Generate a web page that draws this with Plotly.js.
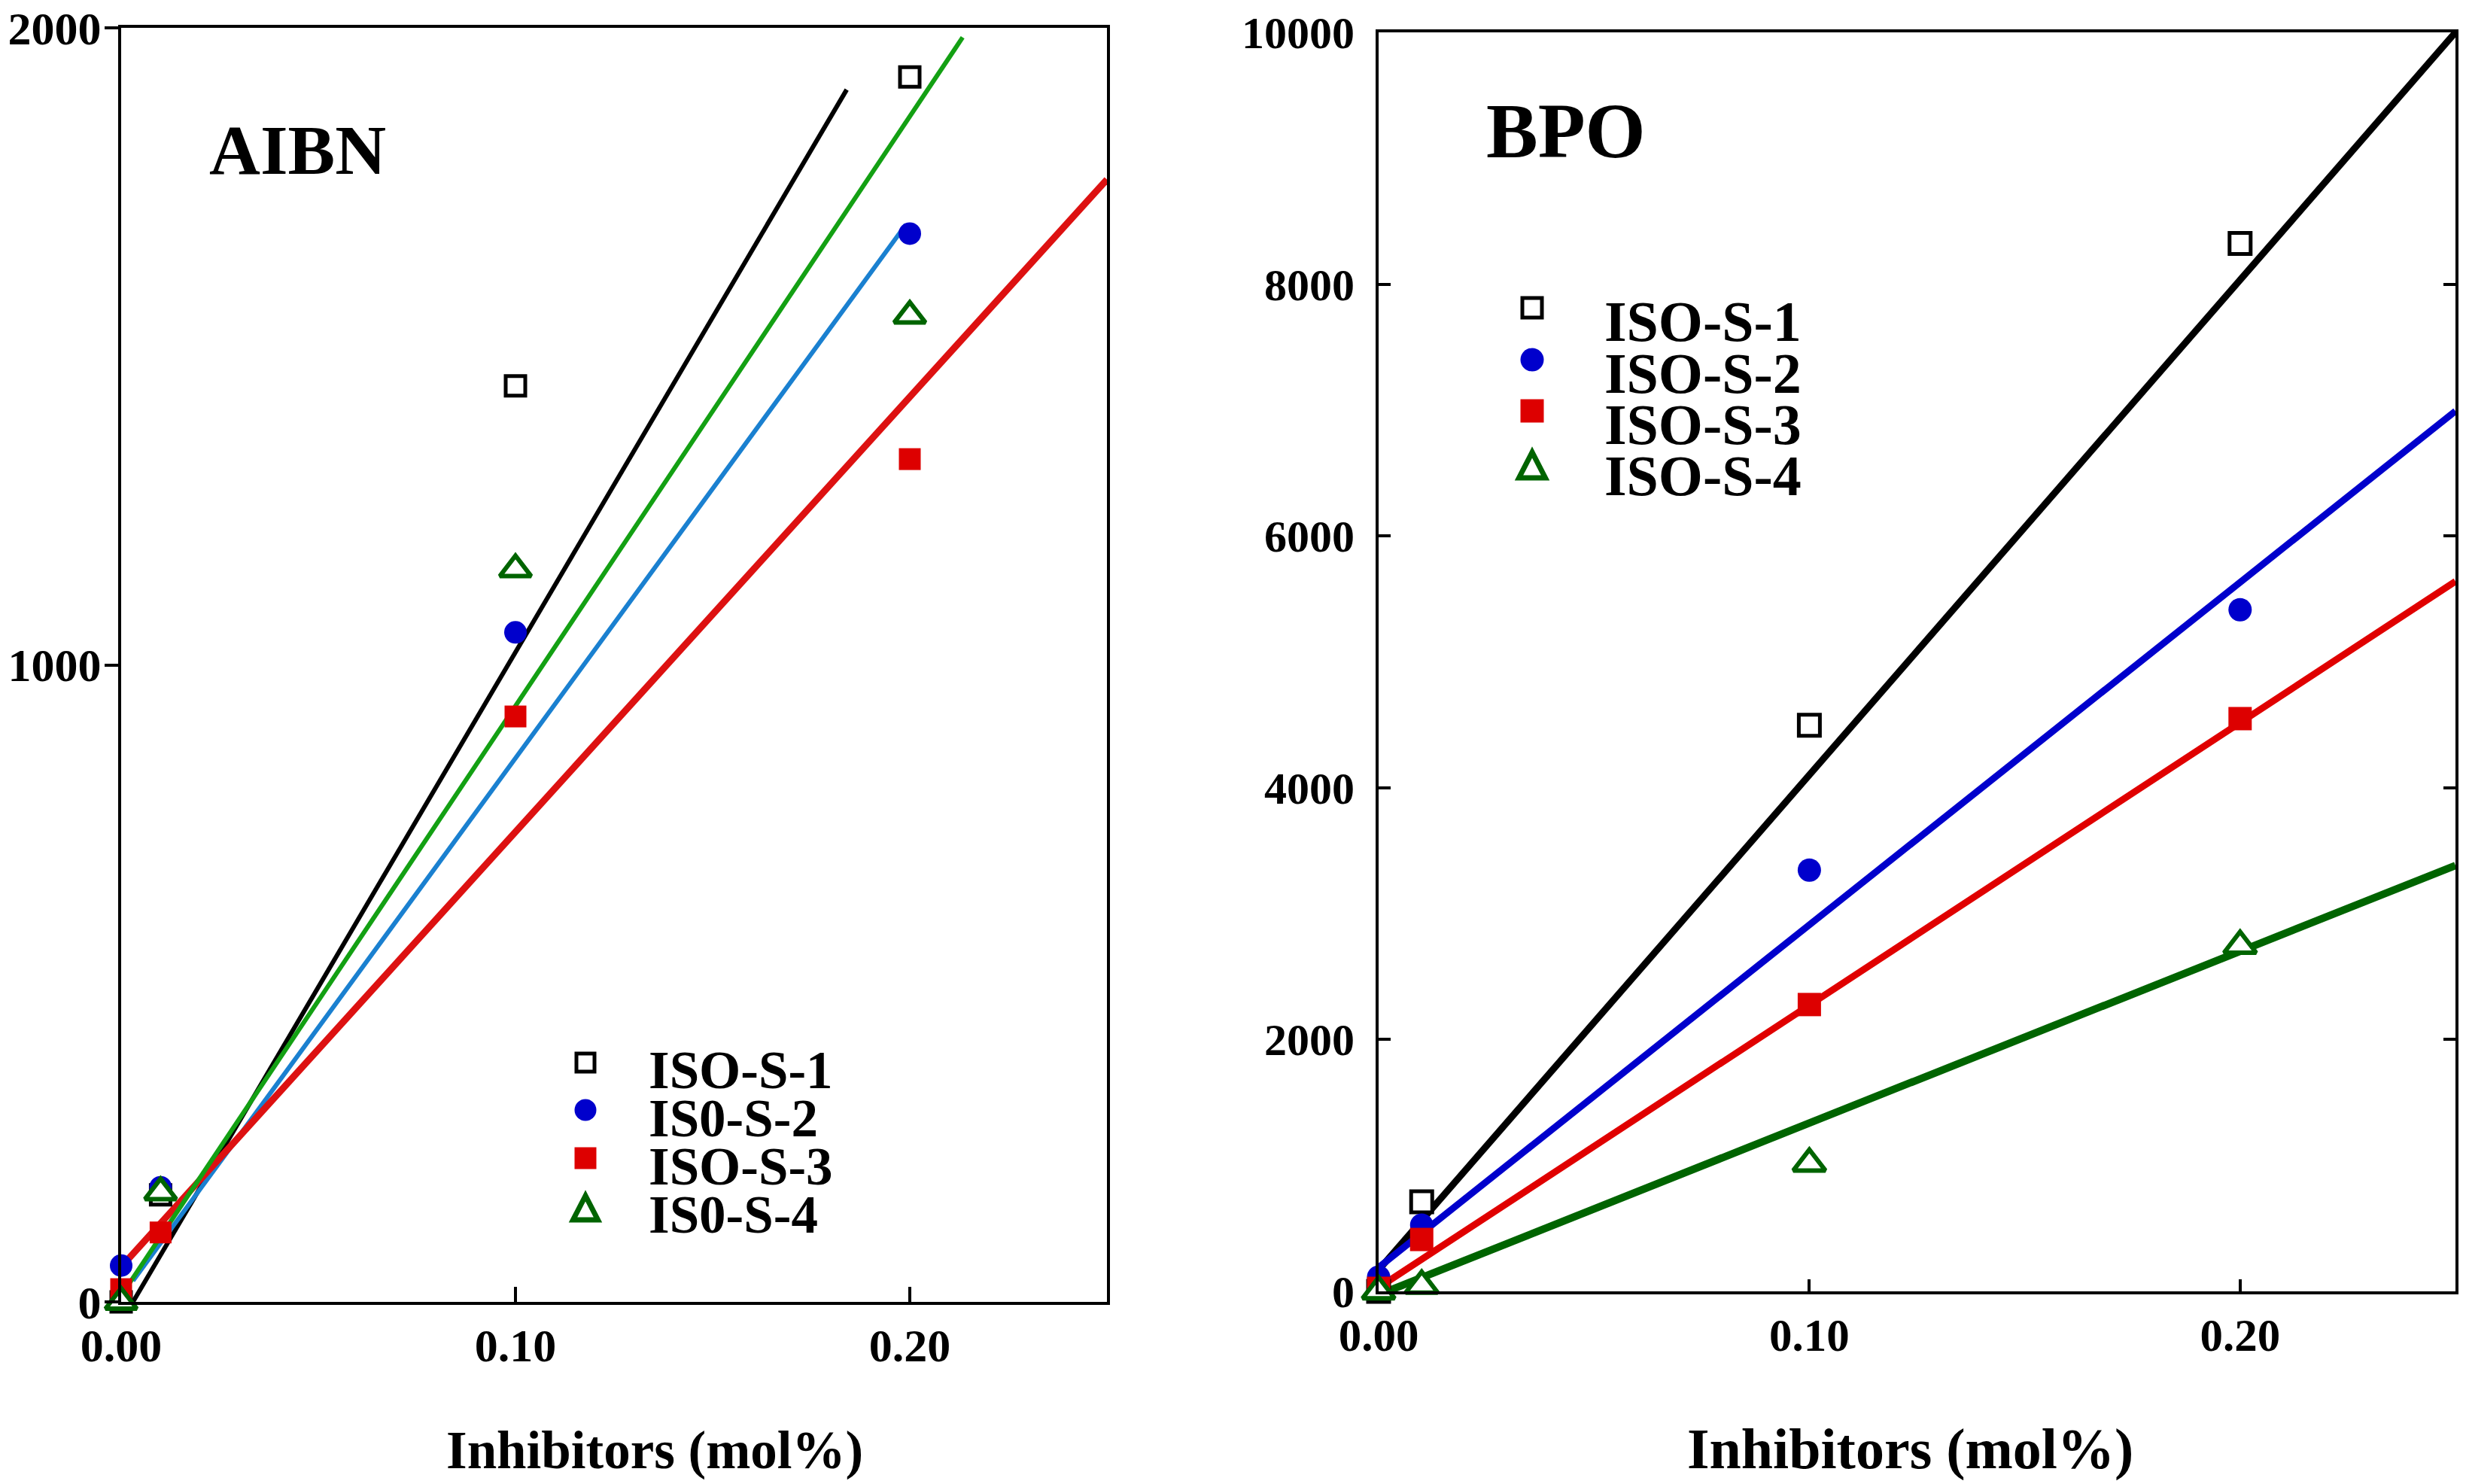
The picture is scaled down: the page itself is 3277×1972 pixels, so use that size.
<!DOCTYPE html>
<html>
<head>
<meta charset="utf-8">
<script src="https://cdn.plot.ly/plotly-3.0.1.min.js"></script>
<style>html,body{margin:0;padding:0;background:#fff;}#chart{width:3277px;height:1972px;}</style>
</head>
<body>
<div id="chart"></div>
<script>
// ---------- DATA ----------
const xLevels = [0, 0.01, 0.1, 0.2];
const aibnLabels = ['ISO-S-1', 'IS0-S-2', 'ISO-S-3', 'IS0-S-4'];
const bpoLabels = ['ISO-S-1', 'ISO-S-2', 'ISO-S-3', 'ISO-S-4'];

// AIBN panel measured points
const aibnS1 = [0, 168, 1438, 1923];
const aibnS2 = [57, 180, 1051, 1677];
const aibnS3 = [20, 109, 919, 1323];
const aibnS4 = [0, 172, 1150, 1548];
// AIBN fitted lines (start / end)
const aibnFitX = [[0.003, 0.184], [0.003, 0.199], [0, 0.25], [0, 0.2134]];
const aibnFitY = [[0, 1903], [33, 1691], [55, 1762], [10, 1985]];

// BPO panel measured points
const bpoS1 = [0, 711, 4496, 8323];
const bpoS2 = [114, 526, 3346, 5414];
const bpoS3 = [24, 412, 2278, 4549];
const bpoS4 = [0, 45, 1015, 2745];
// BPO fitted lines
const bpoFitX = [[0, 0.25], [0, 0.25], [0, 0.25], [0.002, 0.25]];
const bpoFitY = [[170, 10000], [190, 6992], [30, 5639], [0, 3383]];

const aibnTicksX = [0, 0.1, 0.2];
const aibnTicksY = [0, 1000, 2000];
const bpoTicksY = [0, 2000, 4000, 6000, 8000, 10000];

// ---------- STYLE ----------
const FONT = 'Liberation Serif, Times New Roman, serif';
const markerStyles = [
  {symbol: 'square', fill: '#ffffff', color: '#000000', lw: 5},
  {symbol: 'circle', fill: '#0000cc', color: '#0000cc', lw: 0},
  {symbol: 'square', fill: '#dd0000', color: '#dd0000', lw: 0},
  {symbol: 'triangle-up', fill: '#ffffff', color: '#006400', lw: 6}
];
const aibnMarkerSizes = [26, 30, 29, 36];
const bpoMarkerSizes = [28, 31, 31, 37];
const aibnLineColors = ['#000000', '#1a80d0', '#dd1111', '#13a013'];
const aibnLineWidths = [6, 6, 9, 6];
const bpoLineColors = ['#000000', '#0000cc', '#e00000', '#006400'];
const bpoLineWidths = [9, 9, 9, 10];

const traces = [];
function addPanel(series, fitX, fitY, lineColors, lineWidths, sizes, xa, ya) {
  for (let i = 0; i < fitX.length; i++) {
    traces.push({
      x: fitX[i], y: fitY[i], mode: 'lines', xaxis: xa, yaxis: ya,
      line: {color: lineColors[i], width: lineWidths[i]}, hoverinfo: 'skip', showlegend: false
    });
  }
  for (let i = 0; i < series.length; i++) {
    const st = markerStyles[i];
    traces.push({
      x: xLevels, y: series[i], mode: 'markers', xaxis: xa, yaxis: ya, cliponaxis: false,
      marker: {symbol: st.symbol, size: sizes[i], color: st.fill,
               line: {width: st.lw, color: st.color}},
      showlegend: false
    });
  }
}
addPanel([aibnS1, aibnS2, aibnS3, aibnS4], aibnFitX, aibnFitY, aibnLineColors, aibnLineWidths, aibnMarkerSizes, 'x', 'y');
addPanel([bpoS1, bpoS2, bpoS3, bpoS4], bpoFitX, bpoFitY, bpoLineColors, bpoLineWidths, bpoMarkerSizes, 'x2', 'y2');

// ---------- LAYOUT ----------
const W = 3277, H = 1972;
const M = {l: 161, r: 14, t: 37, b: 242};
const PW = W - M.l - M.r, PH = H - M.t - M.b;
const px = v => (v - M.l) / PW;
const py = v => (H - M.b - v) / PH;

const shapes = [];
const annotations = [];

function addLegend(labels, mx, rows, textX, textRows, fontSize, outer) {
  for (let i = 0; i < labels.length; i++) {
    const cy = rows[i];
    const st = markerStyles[i];
    if (i === 0) {
      const s = (outer - 5) / 2;
      shapes.push({type: 'rect', xref: 'paper', yref: 'paper', x0: px(mx - s), x1: px(mx + s),
        y0: py(cy + s), y1: py(cy - s), line: {color: st.color, width: 5}, fillcolor: 'rgba(0,0,0,0)'});
    } else if (i === 1) {
      const s = outer / 2;
      shapes.push({type: 'circle', xref: 'paper', yref: 'paper', x0: px(mx - s), x1: px(mx + s),
        y0: py(cy + s), y1: py(cy - s), line: {width: 0}, fillcolor: st.color});
    } else if (i === 2) {
      const s = outer / 2;
      shapes.push({type: 'rect', xref: 'paper', yref: 'paper', x0: px(mx - s), x1: px(mx + s),
        y0: py(cy + s), y1: py(cy - s), line: {width: 0}, fillcolor: st.color});
    } else {
      const w = (outer + 11 - 7) / 2, h = (outer + 10 - 7) / 2;
      const path = 'M' + px(mx) + ',' + py(cy - h) + ' L' + px(mx - w) + ',' + py(cy + h) +
                   ' L' + px(mx + w) + ',' + py(cy + h) + ' Z';
      shapes.push({type: 'path', xref: 'paper', yref: 'paper', path: path,
        line: {color: st.color, width: 7}, fillcolor: 'rgba(0,0,0,0)'});
    }
    annotations.push({xref: 'paper', yref: 'paper', x: px(textX), y: py(textRows[i]),
      xanchor: 'left', yanchor: 'middle', showarrow: false, text: labels[i],
      font: {family: FONT, size: fontSize, color: '#000', weight: 'bold'}});
  }
}
addLegend(aibnLabels, 778, [1412, 1475, 1539, 1605], 860, [1422, 1486, 1550, 1614], 71, 29);
addLegend(bpoLabels, 2036, [409, 478, 546, 618], 2130, [427, 496, 564, 632], 76, 31);

annotations.push({xref: 'paper', yref: 'paper', x: px(276), y: py(199), xanchor: 'left', yanchor: 'middle',
  showarrow: false, text: 'AIBN', font: {family: FONT, size: 94, color: '#000', weight: 'bold'}});
annotations.push({xref: 'paper', yref: 'paper', x: px(1973), y: py(174), xanchor: 'left', yanchor: 'middle',
  showarrow: false, text: 'BPO', font: {family: FONT, size: 103, color: '#000', weight: 'bold'}});
annotations.push({xref: 'paper', yref: 'paper', x: px(870), y: py(1927), xanchor: 'center', yanchor: 'middle',
  showarrow: false, text: 'Inhibitors (mol%)', font: {family: FONT, size: 71, color: '#000', weight: 'bold'}});
annotations.push({xref: 'paper', yref: 'paper', x: px(2538), y: py(1925), xanchor: 'center', yanchor: 'middle',
  showarrow: false, text: 'Inhibitors (mol%)', font: {family: FONT, size: 76, color: '#000', weight: 'bold'}});

const baseAxis = {
  showline: true, linecolor: '#000', linewidth: 4, showgrid: false, zeroline: false,
  tickcolor: '#000', tickwidth: 4, fixedrange: true
};
const tf = size => ({family: FONT, size: size, color: '#000', weight: 'bold'});

const layout = {
  width: W, height: H, margin: M, paper_bgcolor: '#fff', plot_bgcolor: '#fff', showlegend: false,
  xaxis: Object.assign({}, baseAxis, {domain: [0, px(1471)], range: [0, 0.25], anchor: 'y', mirror: true,
    ticks: 'inside', ticklen: 20, tickvals: aibnTicksX, tickformat: '.2f', tickfont: tf(62), ticklabelstandoff: 1}),
  yaxis: Object.assign({}, baseAxis, {domain: [0, 1], range: [0, 2000], anchor: 'x', mirror: true,
    ticks: 'outside', ticklen: 18, tickvals: aibnTicksY, tickformat: 'd', tickfont: tf(62), ticklabelstandoff: -8}),
  xaxis2: Object.assign({}, baseAxis, {domain: [px(1832), 1], range: [0, 0.25], anchor: 'y2', mirror: true,
    ticks: 'inside', ticklen: 16, tickvals: aibnTicksX, tickformat: '.2f', tickfont: tf(61), ticklabelstandoff: 2}),
  yaxis2: Object.assign({}, baseAxis, {domain: [py(1716), py(43)], range: [0, 10000], anchor: 'x2', mirror: 'ticks',
    ticks: 'inside', ticklen: 16, tickvals: bpoTicksY, tickformat: 'd', tickfont: tf(60), ticklabelstandoff: 16}),
  shapes: shapes,
  annotations: annotations
};

Plotly.newPlot('chart', traces, layout, {displayModeBar: false, staticPlot: true});
</script>
</body>
</html>
